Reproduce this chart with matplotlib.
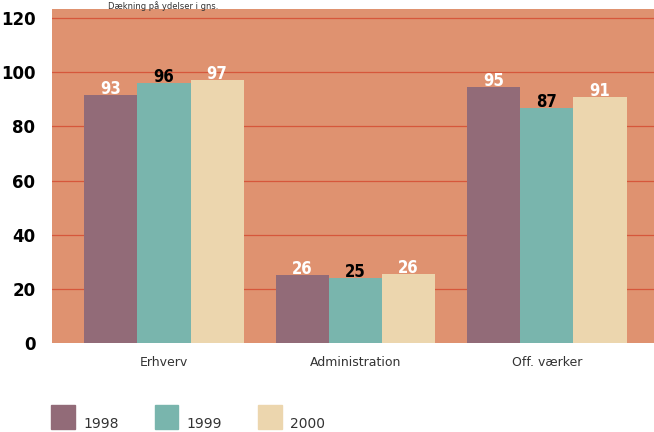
import matplotlib
matplotlib.use("Agg")
import matplotlib.pyplot as plt
import numpy as np
from matplotlib.patches import Rectangle

categories = ["Erhverv", "Administration", "Off. værker"]
years = ["1998", "1999", "2000"]
heights = {
    "1998": [91.5, 25.1, 94.5],
    "1999": [95.9, 24.1, 86.8],
    "2000": [97.0, 25.5, 90.8],
}
labels = {
    "1998": ["93", "26", "95"],
    "1999": ["96", "25", "87"],
    "2000": ["97", "26", "91"],
}
yticks = [0, 20, 40, 60, 80, 100, 120]

colors = {"1998": "#926b78", "1999": "#79b5ad", "2000": "#ecd6ae"}
label_colors = {"1998": "white", "1999": "black", "2000": "white"}
bg = "#df9270"
grid = "#d6573b"

fig = plt.figure(figsize=(6.54, 4.32), dpi=100)
ax = fig.add_axes([0.0795, 0.206, 0.9205, 0.773])
ax.set_facecolor(bg)

x = np.arange(len(categories))
w = 0.277
for i, yr in enumerate(years):
    xs = x + (i - 1) * w
    ax.bar(xs, heights[yr], width=w, color=colors[yr], zorder=3)
    for xi, h, lab in zip(xs, heights[yr], labels[yr]):
        ax.annotate(lab, (xi, h), xytext=(0, -2), textcoords="offset points",
                    ha="center", va="bottom", fontsize=12, fontweight="bold",
                    fontstretch="condensed", color=label_colors[yr], zorder=4)

ax.set_xlim(-0.585, 2.559)
ax.set_ylim(0, 123.3)
ax.set_yticks(yticks)
ax.set_yticklabels([str(t) for t in yticks], fontsize=12, fontweight="bold")
ax.set_xticks(x)
ax.set_xticklabels(categories, fontsize=9, color="#333333")
ax.tick_params(axis="y", length=0, pad=12)
ax.tick_params(axis="x", length=0, pad=9)
for t in yticks[1:]:
    ax.axhline(t, color=grid, linewidth=0.9, zorder=1)
for s in ax.spines.values():
    s.set_visible(False)

# small caption above the plot area
fig.text(0.165, 0.998, "Dækning på ydelser i gns.", fontsize=6, color="#333333",
         va="top")

# legend
for i, yr in enumerate(years):
    lx = (51 + i * 103.5) / 654
    fig.add_artist(Rectangle((lx, 3 / 432), 24 / 654, 24 / 432,
                             transform=fig.transFigure, color=colors[yr]))
    fig.text(lx + 32 / 654, 1 / 432, yr, fontsize=10, color="#333333", va="bottom")

fig.savefig("out.png", dpi=100)
